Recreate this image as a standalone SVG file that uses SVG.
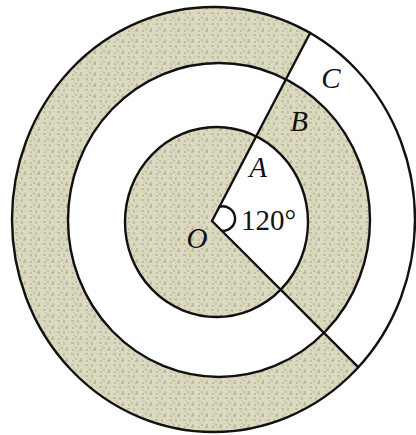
<svg xmlns="http://www.w3.org/2000/svg" width="416" height="435" viewBox="0 0 416 435">
<style>
.ln{stroke:#111;stroke-width:2.4;fill:none;stroke-linecap:round}
.lab{font-family:"Liberation Serif",serif;font-style:italic;font-size:29px;fill:#111}
.num{font-family:"Liberation Serif",serif;font-size:29px;fill:#111}
</style>
<defs>
<pattern id="tex" width="14" height="11" patternUnits="userSpaceOnUse">
<rect width="14" height="11" fill="#dbd9bf"/>
<path d="M1 2h3M8 1v3M5 7h2M11 6v3M2 9h2M9 9h3" stroke="#aca785" stroke-width="1"/>
<path d="M12 2h1M4 4v2M7 10h1" stroke="#c6c2a2" stroke-width="1"/>
</pattern>
<clipPath id="wedge">
<polygon points="212,221 443.5,-222 900,-222 900,574.5 565.5,574.5"/>
</clipPath>
</defs>
<rect width="416" height="435" fill="#fff"/>
<g id="rings">
<ellipse cx="213.5" cy="219.5" rx="201.5" ry="212.5" fill="url(#tex)"/>
<ellipse cx="219" cy="220" rx="151" ry="157" fill="#fff"/>
<ellipse cx="216.5" cy="222" rx="91.5" ry="95" fill="url(#tex)"/>
</g>
<g id="sector" clip-path="url(#wedge)">
<ellipse cx="213.5" cy="219.5" rx="201.5" ry="212.5" fill="#fff"/>
<ellipse cx="219" cy="220" rx="151" ry="157" fill="url(#tex)"/>
<ellipse cx="216.5" cy="222" rx="91.5" ry="95" fill="#fff"/>
</g>
<g id="circles">
<ellipse class="ln" cx="213.5" cy="219.5" rx="201.5" ry="212.5"/>
<ellipse class="ln" cx="219" cy="220" rx="151" ry="157"/>
<ellipse class="ln" cx="216.5" cy="222" rx="91.5" ry="95"/>
</g>
<g id="connectors">
<line class="ln" x1="212" y1="221" x2="310.2" y2="32.8"/>
<line class="ln" x1="212" y1="221" x2="358.2" y2="367.2"/>
<path class="ln" stroke-width="2.1" d="M219.4 206.8 A12.3 12.3 0 1 1 221.9 230.9"/>
</g>
<g id="labels">
<text class="lab" x="258" y="177" text-anchor="middle">A</text>
<text class="lab" x="299" y="131" text-anchor="middle">B</text>
<text class="lab" x="331" y="88" text-anchor="middle">C</text>
<text class="lab" x="197" y="248" text-anchor="middle">O</text>
<text class="num" x="241" y="230">120°</text>
</g>
</svg>
